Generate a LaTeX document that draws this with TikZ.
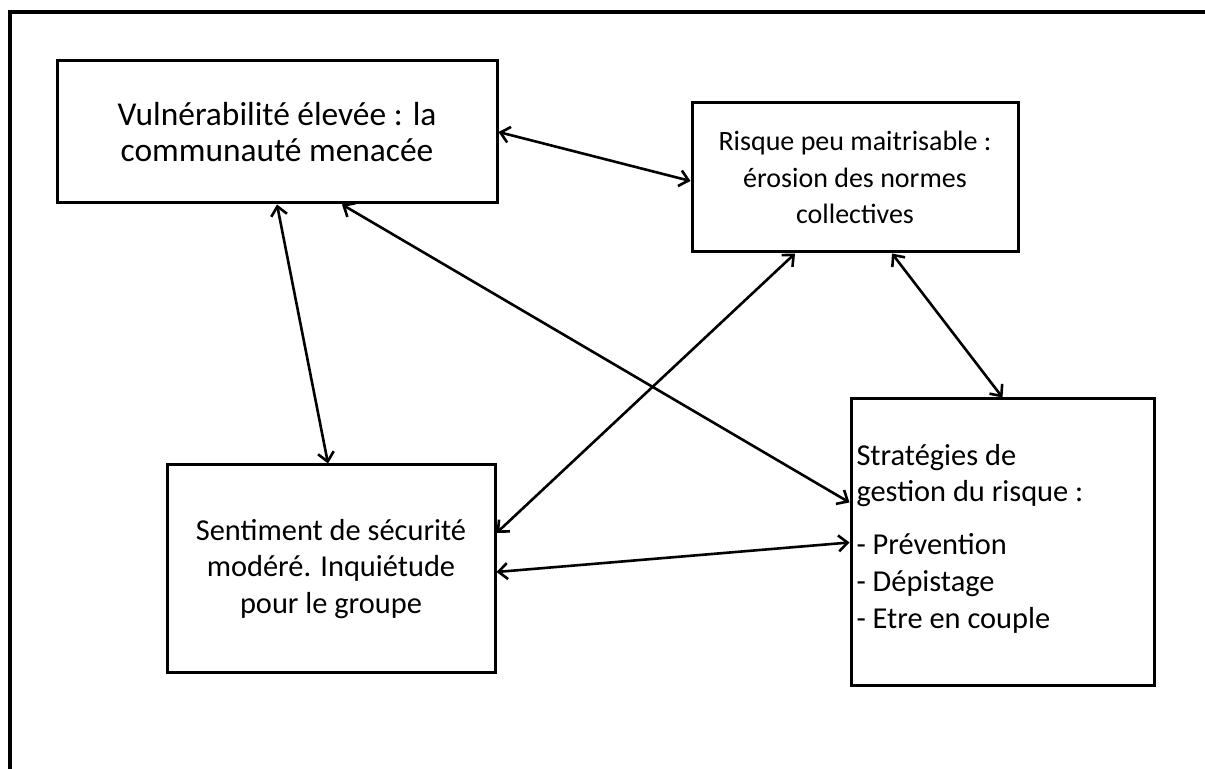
\documentclass[tikz,border=0pt]{standalone}
\usepackage{fontspec}
\setmainfont{Carlito}
\usetikzlibrary{calc,arrows.meta}
\tikzset{
  idea/.style={draw, line width=1.5pt, align=center, inner sep=0pt,
    font=\fontsize{15.2}{18.4}\selectfont},
  link/.style={{Straight Barb[length=4.5pt,width=8pt]}-{Straight Barb[length=4.5pt,width=8pt]}, line width=1.3pt}
}

\begin{document}
\begin{tikzpicture}[x=0.5pt, y=-0.5pt]
		\useasboundingbox (0,0) rectangle (1205,769);
		%%%%% FRAME %%%%%
		\draw[line width=1.6pt] (10,769) -- (10,12) -- (1205,12);
		
		%%%%% BOXES %%%%%
		\node[idea, minimum width=220pt, minimum height=71pt, font=\fontsize{16.7}{18.4}\selectfont] (vuln) at (277,132)
			{Vulnérabilité élevée : la\\communauté menacée};
		\node[idea, minimum width=163pt, minimum height=74.5pt, font=\fontsize{14}{18.4}\selectfont] (risque) at (855,177.5)
			{Risque peu maitrisable :\\érosion des normes\\collectives};
		\node[idea, minimum width=164pt, minimum height=104pt] (senti) at (331,569)
			{Sentiment de sécurité\\modéré. Inquiétude\\pour le groupe};
		\node[idea, minimum width=151.5pt, minimum height=143.5pt, text width=146pt, align=flush left] (strat) at (1002.5,542.5)
			{Stratégies de\\gestion du risque :\\[8pt]- Prévention\\- Dépistage\\- Etre en couple\\[-12pt]\mbox{}};
		
		%%%%% LINKS %%%%%
		\draw[link] (vuln.east) -- ($(risque.west)+(0,3.5)$);
		\draw[link] (vuln.south) -- ($(senti.north)+(-3,0)$);
		\draw[link] ($(vuln.south)+(65,0)$) -- ($(strat.west)+(0,-40)$);
		\draw[link] ($(risque.south)+(-60,0)$) -- ($(senti.east)+(0,-36)$);
		\draw[link] ($(risque.south)+(37,0)$) -- (strat.north);
		\draw[link] ($(senti.east)+(0,3)$) -- (strat.west);
\end{tikzpicture}
\end{document}
